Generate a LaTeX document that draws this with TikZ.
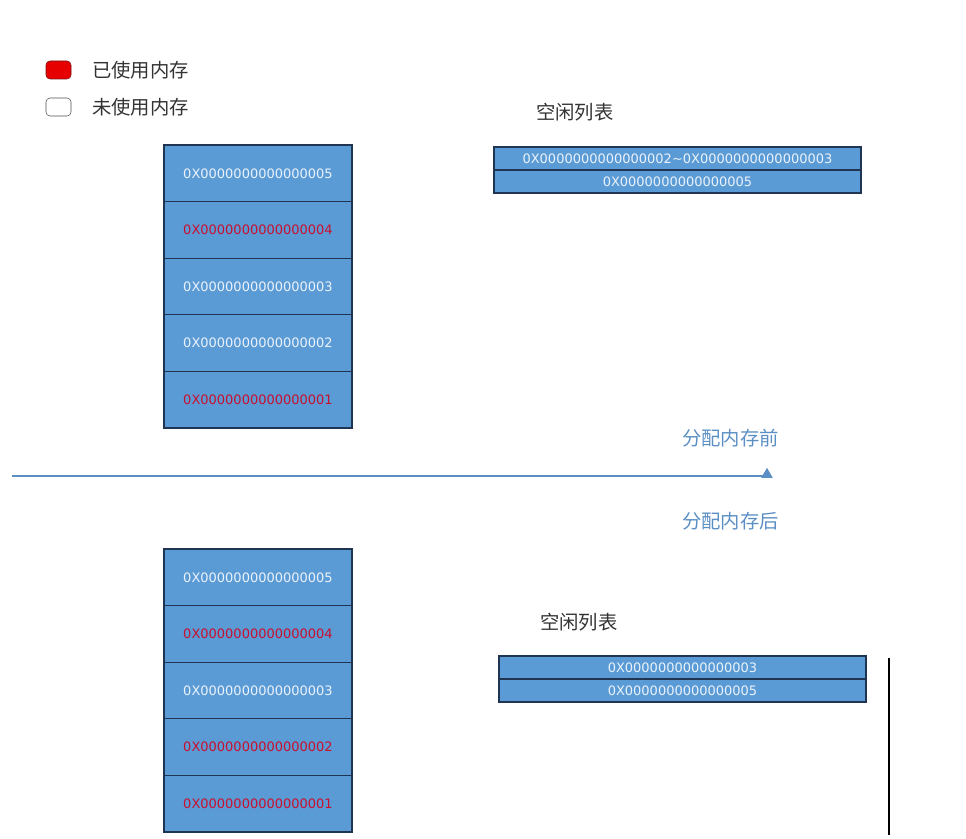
\documentclass[tikz,border=0pt]{standalone}
\usepackage{fontspec}
\setmainfont{DejaVu Sans}
\newfontfamily\cjk{Noto Sans CJK SC}
\usetikzlibrary{shapes.geometric}
\definecolor{cellblue}{HTML}{5B9BD5}
\definecolor{celledge}{HTML}{1F3552}
\definecolor{usedred}{HTML}{C8102E}
\definecolor{freewhite}{HTML}{EAF2FA}
\definecolor{tagblue}{HTML}{5B8FC4}
\definecolor{labelgray}{HTML}{333333}
\tikzset{
  memcell/.style={draw=celledge,fill=cellblue,line width=0.9pt,inner sep=0pt,outer sep=0pt,
    minimum width=141pt,minimum height=42.45pt,font=\fontsize{9.75}{11}\selectfont},
  freecell/.style={draw=celledge,fill=cellblue,line width=0.9pt,inner sep=0pt,outer sep=0pt,
    minimum width=275.25pt,minimum height=17.25pt,text=freewhite,font=\fontsize{9.75}{11}\selectfont},
  cellframe/.style={draw=celledge,line width=1pt},
  cjklabel/.style={anchor=west,inner sep=0pt,text=labelgray,font=\cjk\fontsize{14.5}{16}\selectfont},
  taglabel/.style={cjklabel,text=tagblue}
}
\begin{document}
\begin{tikzpicture}[x=0.75pt,y=0.75pt,yscale=-1,xscale=1]
\useasboundingbox (0,0) rectangle (966,838);

% Legend
\draw [fill={rgb,255:red,230;green,0;blue,0},draw={rgb,255:red,120;green,20;blue,20},rounded corners=3pt] (46,61) rectangle (71,79);
\draw [fill=white,draw={rgb,255:red,80;green,80;blue,80},rounded corners=3pt] (46,98) rectangle (71,116);
\node [cjklabel] (usedkey) at (92,70) {已使用内存};
\node [cjklabel] (freekey) at (92,107) {未使用内存};

% Memory before allocation
\foreach \n/\c [count=\i] in {5/freewhite,4/usedred,3/freewhite,2/freewhite,1/usedred}
  \node [memcell,text=\c] (pre\n) at (258,{145+56.6*(\i-0.5)}) {0X000000000000000\n};
\foreach \n in {5,4,3,2,1}
  \draw [cellframe] (pre\n.north west) rectangle (pre\n.south east);

% Free list before
\node [cjklabel] (pretitle) at (536,112) {空闲列表};
\node [freecell] (prefreeA) at (677.5,158.5) {0X0000000000000002\textasciitilde0X0000000000000003};
\node [freecell] (prefreeB) at (677.5,181.5) {0X0000000000000005};
\draw [cellframe] (prefreeA.south west) -- (prefreeA.south east);

% Divider
\node [taglabel] (beforetag) at (682,438) {分配内存前};
\coordinate (axisL) at (12,476);
\node [regular polygon,regular polygon sides=3,fill=tagblue,inner sep=0pt,minimum size=10pt] (tip) at (767,474.5) {};
\draw [tagblue,line width=0.8pt] (axisL) -- (axisL -| tip.center);
\node [taglabel] (aftertag) at (682,521) {分配内存后};

% Memory after allocation
\foreach \n/\c [count=\i] in {5/freewhite,4/usedred,3/freewhite,2/usedred,1/usedred}
  \node [memcell,text=\c] (post\n) at (258,{549+56.6*(\i-0.5)}) {0X000000000000000\n};
\foreach \n in {5,4,3,2,1}
  \draw [cellframe] (post\n.north west) rectangle (post\n.south east);

% Free list after
\node [cjklabel] (posttitle) at (540,622) {空闲列表};
\node [freecell] (postfreeA) at (682.5,667.5) {0X0000000000000003};
\node [freecell] (postfreeB) at (682.5,690.5) {0X0000000000000005};
\draw [cellframe] (postfreeA.south west) -- (postfreeA.south east);

% Right bar
\coordinate (barT) at (889,658);
\coordinate (barB) at (889,835);
\draw [line width=1pt] (barT) -- (barB);
\end{tikzpicture}
\end{document}
